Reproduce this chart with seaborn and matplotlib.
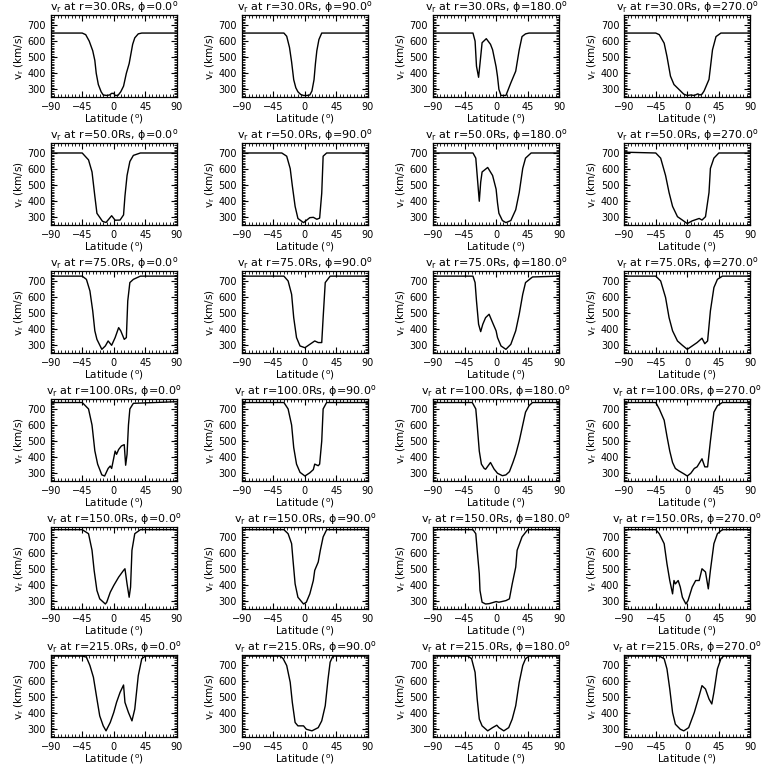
import pandas as pd
import matplotlib
matplotlib.use("Agg")
import matplotlib.pyplot as plt
import seaborn as sns
from matplotlib.ticker import MultipleLocator

sns.set_style("ticks")
plt.rcParams['font.family'] = ['DejaVu Sans']
plt.rcParams['mathtext.default'] = 'regular'
plt.rcParams['text.color'] = 'black'
plt.rcParams['axes.labelcolor'] = 'black'
plt.rcParams['axes.edgecolor'] = 'black'
plt.rcParams['xtick.color'] = 'black'
plt.rcParams['ytick.color'] = 'black'

RADII = [30.0, 50.0, 75.0, 100.0, 150.0, 215.0]
PHIS = [0.0, 90.0, 180.0, 270.0]

# (lat, v_r), row = radius, col = phi
# r = 30 Rs
lat_30_0 = [-90, -45, -40, -35, -30, -27, -25, -22, -18, -15, -10, -6, -3, 0, 2, 6, 10, 14, 18, 22, 27, 30, 35, 40, 90]
v_30_0 = [650, 650, 640, 600, 540, 480, 400, 330, 285, 265, 262, 265, 275, 275, 262, 262, 285, 320, 400, 460, 580, 620, 645, 650, 650]
lat_30_90 = [-90, -30, -26, -22, -19, -16, -13, -10, -6, -2, 3, 7, 10, 13, 15, 17, 20, 24, 90]
v_30_90 = [650, 650, 630, 560, 470, 360, 310, 285, 268, 262, 262, 265, 290, 360, 460, 540, 610, 650, 650]
lat_30_180 = [-90, -33, -30, -28, -25, -23, -20, -14, -8, -5, 0, 2, 4, 7, 14, 21, 28, 33, 37, 42, 47, 90]
v_30_180 = [650, 650, 600, 444, 375, 460, 590, 615, 580, 546, 440, 380, 300, 262, 262, 340, 413, 546, 628, 645, 650, 650]
lat_30_270 = [-90, -45, -40, -33, -29, -24, -19, -12, -5, 0, 5, 10, 15, 18, 21, 24, 31, 36, 41, 48, 90]
v_30_270 = [650, 650, 640, 587, 505, 382, 330, 300, 270, 262, 265, 262, 272, 265, 270, 290, 362, 546, 628, 650, 650]

# r = 50 Rs
lat_50_0 = [-90, -45, -36, -31, -27, -24, -20, -16, -11, -3, 2, 9, 14, 16, 19, 23, 28, 38, 90]
v_50_0 = [700, 700, 657, 582, 432, 325, 300, 275, 268, 310, 282, 283, 315, 432, 560, 647, 685, 700, 700]
lat_50_90 = [-90, -33, -26, -21, -18, -14, -10, -2, 7, 12, 17, 21, 24, 26, 31, 90]
v_50_90 = [700, 700, 680, 603, 497, 368, 293, 267, 298, 300, 288, 295, 450, 680, 700, 700]
lat_50_180 = [-90, -33, -29, -27, -24, -22, -20, -12, -5, 0, 2, 4, 9, 14, 21, 28, 33, 38, 42, 50, 90]
v_50_180 = [700, 700, 668, 560, 400, 518, 582, 610, 560, 475, 390, 325, 280, 267, 280, 347, 454, 604, 668, 700, 700]
lat_50_270 = [-90, -45, -38, -31, -26, -21, -14, -7, 0, 7, 17, 21, 26, 31, 33, 38, 45, 90]
v_50_270 = [705, 700, 668, 560, 454, 368, 304, 283, 261, 278, 293, 283, 304, 454, 604, 668, 700, 700]

# r = 75 Rs
lat_75_0 = [-90, -45, -39, -34, -30, -27, -24, -17, -12, -8, -3, 2, 7, 10, 15, 18, 20, 23, 28, 38, 90]
v_75_0 = [730, 730, 710, 638, 514, 390, 337, 275, 296, 327, 300, 348, 410, 390, 337, 348, 576, 690, 710, 730, 730]
lat_75_90 = [-90, -30, -24, -19, -16, -12, -7, 0, 7, 14, 19, 24, 26, 29, 36, 90]
v_75_90 = [730, 730, 700, 617, 472, 348, 296, 285, 306, 327, 317, 317, 472, 690, 730, 730]
lat_75_180 = [-90, -33, -30, -28, -25, -22, -19, -15, -10, -5, 0, 2, 7, 14, 21, 28, 33, 38, 42, 52, 90]
v_75_180 = [730, 730, 690, 576, 431, 385, 431, 472, 493, 441, 390, 348, 296, 275, 306, 390, 493, 617, 690, 725, 730]
lat_75_270 = [-90, -45, -38, -31, -26, -21, -14, -7, 0, 7, 14, 21, 25, 29, 33, 38, 43, 50, 90]
v_75_270 = [730, 730, 700, 597, 472, 390, 327, 300, 275, 296, 317, 344, 310, 327, 514, 659, 710, 730, 730]

# r = 100 Rs
lat_100_0 = [-90, -45, -36, -31, -27, -23, -17, -13, -8, -5, -3, 2, 4, 7, 11, 15, 17, 19, 21, 23, 28, 90]
v_100_0 = [740, 740, 700, 600, 440, 357, 290, 283, 330, 345, 330, 438, 418, 448, 470, 478, 350, 418, 600, 700, 735, 745]
lat_100_90 = [-90, -30, -24, -19, -16, -12, -7, 0, 7, 12, 14, 19, 21, 24, 26, 31, 90]
v_100_90 = [740, 740, 700, 600, 460, 357, 306, 283, 303, 323, 357, 347, 357, 500, 700, 740, 740]
lat_100_180 = [-90, -34, -29, -27, -24, -21, -17, -15, -8, -3, 2, 9, 14, 19, 24, 28, 33, 38, 42, 47, 52, 90]
v_100_180 = [740, 740, 700, 600, 438, 357, 330, 325, 367, 327, 300, 285, 290, 310, 367, 418, 500, 600, 680, 720, 740, 740]
lat_100_270 = [-90, -45, -40, -33, -29, -25, -21, -17, -12, -5, 0, 5, 10, 14, 21, 25, 29, 33, 38, 43, 50, 90]
v_100_270 = [740, 740, 700, 630, 530, 438, 367, 330, 315, 297, 283, 300, 330, 340, 390, 340, 340, 500, 680, 720, 740, 740]

# r = 150 Rs
lat_150_0 = [-90, -45, -36, -31, -28, -24, -20, -12, -10, -5, 0, 7, 14, 16, 19, 22, 24, 26, 30, 38, 90]
v_150_0 = [745, 745, 720, 617, 492, 367, 315, 283, 294, 356, 398, 450, 492, 502, 408, 325, 388, 617, 720, 745, 745]
lat_150_90 = [-90, -30, -24, -19, -17, -14, -10, -2, 2, 7, 12, 14, 19, 22, 26, 31, 90]
v_150_90 = [745, 745, 720, 658, 555, 408, 325, 283, 294, 346, 429, 492, 544, 617, 700, 745, 745]
lat_150_180 = [-90, -33, -29, -27, -24, -23, -20, -15, -10, 0, 4, 14, 19, 23, 28, 30, 37, 45, 90]
v_150_180 = [745, 745, 720, 617, 471, 367, 294, 283, 285, 298, 294, 304, 315, 408, 512, 617, 700, 745, 745]
lat_150_270 = [-90, -45, -40, -33, -29, -25, -21, -19, -17, -13, -10, -7, -2, 1, 7, 12, 17, 21, 26, 30, 33, 38, 43, 50, 90]
v_150_270 = [745, 745, 720, 658, 533, 429, 346, 429, 408, 429, 388, 325, 283, 304, 388, 429, 429, 502, 482, 377, 492, 658, 720, 745, 745]

# r = 215 Rs
lat_215_0 = [-90, -45, -39, -34, -29, -24, -20, -15, -11, -5, 0, 4, 9, 14, 16, 21, 26, 30, 35, 40, 45, 90]
v_215_0 = [755, 755, 748, 696, 623, 488, 383, 321, 290, 342, 404, 467, 529, 575, 467, 404, 352, 425, 633, 738, 755, 755]
lat_215_90 = [-90, -35, -31, -26, -21, -18, -14, -10, -2, 2, 10, 19, 24, 29, 33, 36, 40, 90]
v_215_90 = [755, 755, 738, 696, 592, 467, 342, 321, 321, 300, 290, 310, 352, 446, 612, 717, 755, 755]
lat_215_180 = [-90, -40, -35, -30, -27, -24, -20, -12, -5, 1, 4, 11, 18, 23, 28, 33, 38, 42, 47, 90]
v_215_180 = [755, 755, 738, 654, 488, 363, 321, 290, 310, 325, 310, 290, 310, 363, 446, 592, 696, 738, 755, 755]
lat_215_270 = [-90, -40, -33, -29, -25, -21, -17, -10, -5, 2, 10, 17, 21, 26, 31, 35, 38, 43, 48, 52, 90]
v_215_270 = [755, 755, 738, 675, 550, 404, 331, 300, 290, 310, 404, 508, 571, 550, 488, 457, 529, 675, 738, 755, 755]

PANELS = [
    [(lat_30_0, v_30_0), (lat_30_90, v_30_90), (lat_30_180, v_30_180), (lat_30_270, v_30_270)],
    [(lat_50_0, v_50_0), (lat_50_90, v_50_90), (lat_50_180, v_50_180), (lat_50_270, v_50_270)],
    [(lat_75_0, v_75_0), (lat_75_90, v_75_90), (lat_75_180, v_75_180), (lat_75_270, v_75_270)],
    [(lat_100_0, v_100_0), (lat_100_90, v_100_90), (lat_100_180, v_100_180), (lat_100_270, v_100_270)],
    [(lat_150_0, v_150_0), (lat_150_90, v_150_90), (lat_150_180, v_150_180), (lat_150_270, v_150_270)],
    [(lat_215_0, v_215_0), (lat_215_90, v_215_90), (lat_215_180, v_215_180), (lat_215_270, v_215_270)],
]

fig, axes = plt.subplots(6, 4, figsize=(7.68, 7.68), dpi=100)
fig.subplots_adjust(left=0.066, right=0.977, top=0.980, bottom=0.040, wspace=0.516, hspace=0.56)

for i, r in enumerate(RADII):
    for j, phi in enumerate(PHIS):
        ax = axes[i, j]
        lat, v = PANELS[i][j]
        df = pd.DataFrame({'lat': lat, 'v': v})
        sns.lineplot(data=df, x='lat', y='v', ax=ax, color='black', linewidth=1.0,
                     estimator=None, sort=False)
        ax.set_xlim(-90, 90)
        ax.set_ylim(250, 760)
        ax.set_xticks([-90, -45, 0, 45, 90])
        ax.set_yticks([300, 400, 500, 600, 700])
        ax.xaxis.set_minor_locator(MultipleLocator(5))
        ax.yaxis.set_minor_locator(MultipleLocator(10))
        ax.tick_params(which='both', direction='in', top=True, right=True, labelsize=7)
        ax.tick_params(which='major', length=4, width=0.8)
        ax.tick_params(which='minor', length=2, width=0.6)
        for s in ax.spines.values():
            s.set_linewidth(0.9)
        ax.set_title(f'v$_r$ at r={r:.1f}Rs, $\\phi$={phi:.1f}$^o$', fontsize=8, pad=2)
        ax.set_xlabel('Latitude ($^o$)', fontsize=7.5, labelpad=0)
        ax.set_ylabel('v$_r$ (km/s)', fontsize=7.5, labelpad=1)

plt.savefig('out.png', dpi=100, facecolor='white')
